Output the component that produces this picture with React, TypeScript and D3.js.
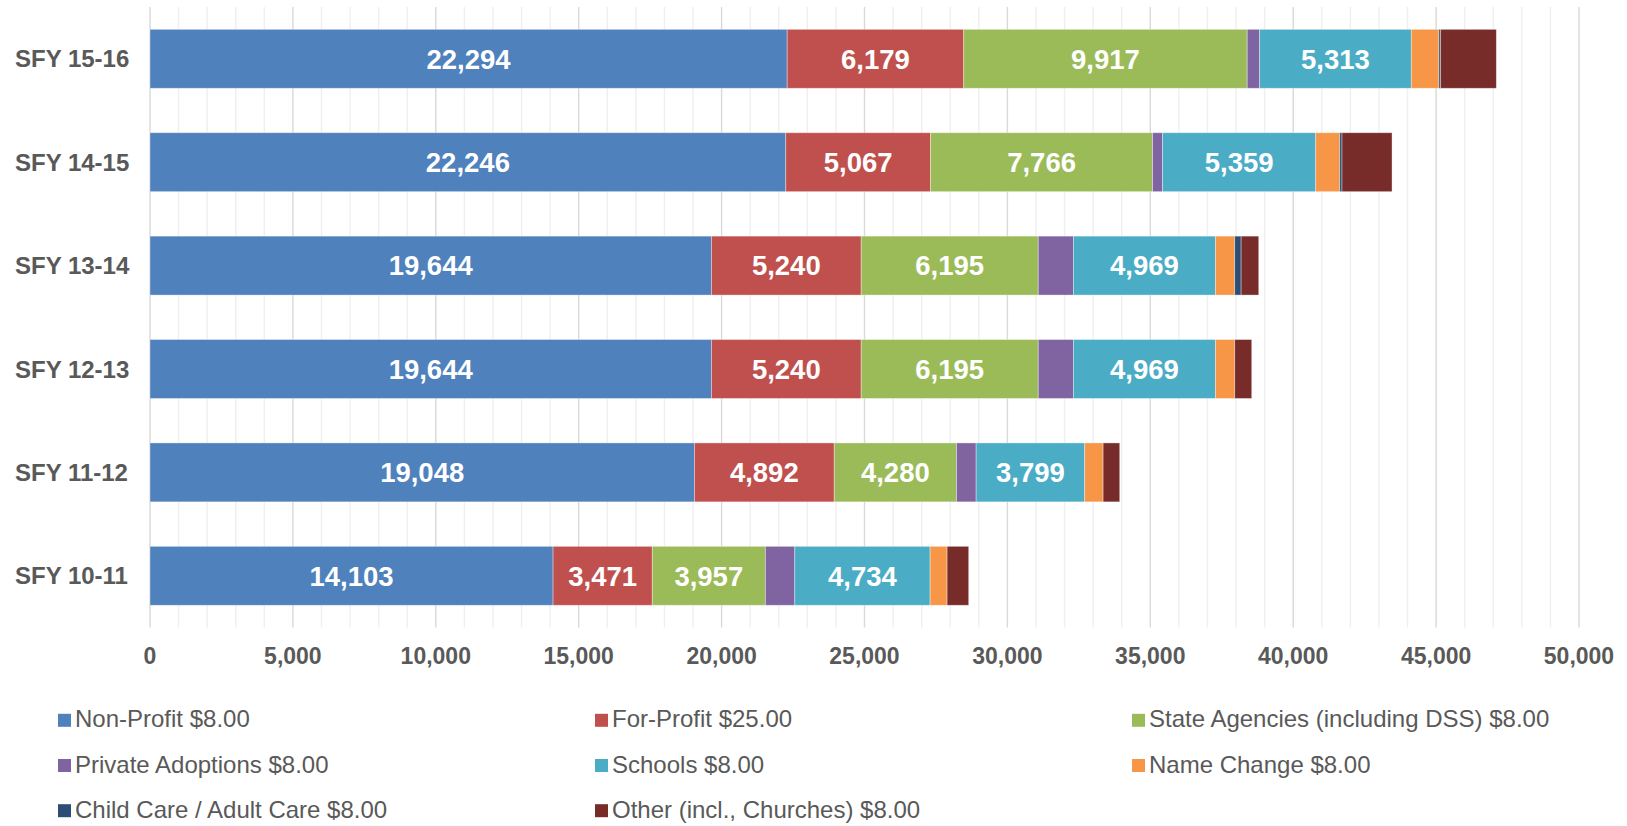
import React from "react";
import * as d3 from "d3";

const categories = ["SFY 15-16", "SFY 14-15", "SFY 13-14", "SFY 12-13", "SFY 11-12", "SFY 10-11"];
const seriesNames = [
  "Non-Profit $8.00",
  "For-Profit $25.00",
  "State Agencies (including DSS) $8.00",
  "Private Adoptions $8.00",
  "Schools $8.00",
  "Name Change $8.00",
  "Child Care / Adult Care $8.00",
  "Other (incl., Churches) $8.00",
];
const colors = ["#4F81BD", "#C0504D", "#9BBB59", "#8064A2", "#4BACC6", "#F79646", "#2C4D75", "#772C2A"];

const nonProfit = [22294, 22246, 19644, 19644, 19048, 14103];
const forProfit = [6179, 5067, 5240, 5240, 4892, 3471];
const stateAgencies = [9917, 7766, 6195, 6195, 4280, 3957];
const privateAdoptions = [430, 350, 1230, 1230, 686, 1030];
const schools = [5313, 5359, 4969, 4969, 3799, 4734];
const nameChange = [966, 840, 676, 676, 644, 595];
const childCare = [60, 80, 224, 0, 0, 0];
const other = [1949, 1750, 616, 595, 581, 756];

const seriesValues = [nonProfit, forProfit, stateAgencies, privateAdoptions, schools, nameChange, childCare, other];
const labeledSeries = [0, 1, 2, 4];
const xTicks = [0, 5000, 10000, 15000, 20000, 25000, 30000, 35000, 40000, 45000, 50000];

const W = 1627;
const H = 826;
const FONT = "'Liberation Sans', Arial, sans-serif";

export default function App() {
  const x = d3.scaleLinear().domain([0, 50000]).range([150, 1579]);
  const y = d3.scaleBand<string>().domain(categories).range([7.1, 627.5]).paddingInner(0.43).paddingOuter(0.215);
  const bw = y.bandwidth();

  const table = categories.map((c, i) => {
    const row: any = { cat: c };
    seriesNames.forEach((s, j) => (row[s] = seriesValues[j][i]));
    return row;
  });
  const stacked = d3.stack<any>().keys(seriesNames)(table);

  const minorTicks = d3.range(0, 50001, 1000);
  const fmt = d3.format(",");

  return (
    <svg width={W} height={H} style={{ position: "absolute", left: 0, top: 0, background: "#fff" }} fontFamily={FONT}>
      {minorTicks.map((t) => (
        <line
          key={"g" + t}
          x1={x(t)}
          x2={x(t)}
          y1={7}
          y2={627.5}
          stroke={t % 5000 === 0 ? "#d9d9d9" : "#efefef"}
          strokeWidth={1.4}
        />
      ))}
      {stacked.map((layer, j) => (
        <g key={layer.key} fill={colors[j]}>
          {layer.map((d, i) =>
            d[1] - d[0] > 0 ? (
              <rect
                key={i}
                x={x(d[0])}
                y={y(categories[i])!}
                width={x(d[1]) - x(d[0])}
                height={bw}
                stroke="#ffffff"
                strokeOpacity={0.45}
                strokeWidth={0.8}
              />
            ) : null
          )}
        </g>
      ))}
      {stacked.map((layer, j) =>
        labeledSeries.includes(j)
          ? layer.map((d, i) => (
              <text
                key={layer.key + "l" + i}
                x={(x(d[0]) + x(d[1])) / 2}
                y={y(categories[i])! + bw / 2 + 9.8}
                textAnchor="middle"
                fill="#ffffff"
                fontWeight="bold"
                fontSize={27.5}
              >
                {fmt(d[1] - d[0])}
              </text>
            ))
          : null
      )}
      {categories.map((c) => (
        <text key={c} x={15} y={y(c)! + bw / 2 + 8.6} fill="#595959" fontWeight="bold" fontSize={24}>
          {c}
        </text>
      ))}
      {xTicks.map((t) => (
        <text key={"t" + t} x={x(t)} y={664} textAnchor="middle" fill="#595959" fontWeight="bold" fontSize={23}>
          {fmt(t)}
        </text>
      ))}
      {seriesNames.map((s, j) => {
        const col = j % 3;
        const row = Math.floor(j / 3);
        const bx = 58 + col * 537;
        const by = 727.3 + row * 45.2;
        return (
          <g key={"lg" + s}>
            <rect x={bx} y={by - 13.5} width={13} height={13} fill={colors[j]} />
            <text x={bx + 17} y={by} fill="#595959" fontSize={24}>
              {s}
            </text>
          </g>
        );
      })}
    </svg>
  );
}
